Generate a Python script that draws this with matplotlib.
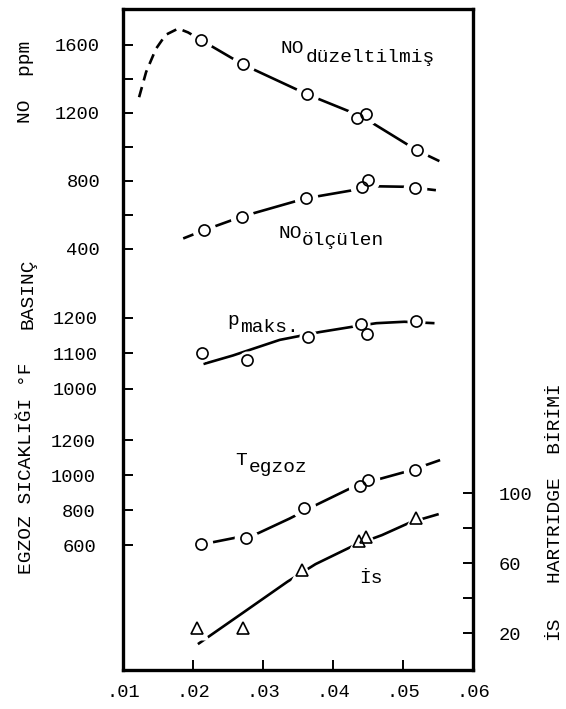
import matplotlib
matplotlib.use('Agg')
import matplotlib.pyplot as plt

plt.rcParams['font.family'] = ['Liberation Mono', 'DejaVu Sans']

# ---------------- data ----------------
x_ticks = [0.01, 0.02, 0.03, 0.04, 0.05, 0.06]
x_labels = ['.01', '.02', '.03', '.04', '.05', '.06']

no_ticks = [400, 600, 800, 1000, 1200, 1400, 1600]
no_labels = ['400', '', '800', '', '1200', '', '1600']
p_ticks = [1000, 1100, 1200]
p_labels = ['1000', '1100', '1200']
t_ticks = [600, 800, 1000, 1200]
t_labels = ['600', '800', '1000', '1200']
s_ticks = [20, 40, 60, 80, 100]
s_labels = ['20', '', '60', '', '100']

# NO corrected (düzeltilmiş)
nocor_x = [0.0212, 0.0271, 0.0363, 0.0435, 0.0447, 0.0520]
nocor_y = [1625, 1483, 1307, 1165, 1189, 977]
nocor_dash_x = [0.0123, 0.0133, 0.0147, 0.0161, 0.0179, 0.0193, 0.0212]
nocor_dash_y = [1290, 1438, 1574, 1657, 1694, 1671, 1625]
nocor_fit_x = [0.0212, 0.0271, 0.0363, 0.0441, 0.0520, 0.0552]
nocor_fit_y = [1625, 1483, 1307, 1177, 977, 914]

# NO measured (ölçülen)
nomes_x = [0.0216, 0.0270, 0.0361, 0.0441, 0.0450, 0.0517]
nomes_y = [508, 588, 695, 759, 801, 753]
nomes_fit_x = [0.0186, 0.0216, 0.0270, 0.0361, 0.0461, 0.0505, 0.0547]
nomes_fit_y = [459, 508, 588, 695, 766, 763, 743]

# maximum pressure
p_x = [0.0213, 0.0277, 0.0364, 0.0440, 0.0449, 0.0518]
p_y = [1100, 1079, 1144, 1181, 1153, 1189]
p_fit_x = [0.0215, 0.0257, 0.0324, 0.0381, 0.0428, 0.0462, 0.0502, 0.0545]
p_fit_y = [1069, 1093, 1137, 1159, 1174, 1184, 1188, 1184]

# exhaust temperature
t_x = [0.0211, 0.0276, 0.0359, 0.0439, 0.0450, 0.0517]
t_y = [607, 641, 812, 938, 973, 1034]
t_fit_x = [0.0211, 0.0293, 0.0338, 0.0375, 0.0430, 0.0460, 0.0510, 0.0553]
t_fit_y = [605, 670, 754, 830, 937, 973, 1028, 1088]

# smoke (Hartridge)
s_x = [0.0205, 0.0271, 0.0356, 0.0437, 0.0447, 0.0518]
s_y = [23.0, 22.9, 56.1, 72.6, 75.0, 85.7]
s_fit_x = [0.0207, 0.0272, 0.0335, 0.0375, 0.0430, 0.0470, 0.0510, 0.0551]
s_fit_y = [13.9, 32.0, 49.6, 59.6, 70.3, 76.2, 83.4, 88.2]

# ---------------- layout ----------------
W, H = 566, 709
fig = plt.figure(figsize=(W / 100, H / 100), dpi=100)
fig.patch.set_facecolor('white')


def fx(px):
    return px / W


def fy(py):
    return 1 - py / H


AX_L, AX_R, AX_T, AX_B = 123, 473, 8.5, 669.5
rect = [fx(AX_L), fy(AX_B), (AX_R - AX_L) / W, (AX_B - AX_T) / H]

ax_no = fig.add_axes(rect)
ax_p = fig.add_axes(rect)
ax_t = fig.add_axes(rect)
ax_s = fig.add_axes(rect)

LW = 1.9
TS = 13.5
for ax in (ax_no, ax_p, ax_t, ax_s):
    ax.set_xlim(0.01, 0.06)
    ax.patch.set_visible(False)
    for sp in ax.spines.values():
        sp.set_visible(False)
ax_no.patch.set_visible(True)
ax_no.patch.set_facecolor('white')
for sp in ax_no.spines.values():
    sp.set_visible(True)
    sp.set_linewidth(2.4)

ax_no.set_xticks(x_ticks, labels=x_labels)
ax_no.tick_params(axis='x', direction='in', length=7, width=1.4, pad=10.5,
                  labelsize=TS, top=False)
for ax in (ax_p, ax_t, ax_s):
    ax.tick_params(axis='x', bottom=False, labelbottom=False)

# y ranges set so the tick values sit where they sit in the reference
ax_no.set_ylim(-2076.5, 1811.8)
ax_p.set_ylim(208.5, 2070.4)
ax_t.set_ylim(-108.6, 3668.6)
ax_s.set_ylim(-0.6, 377.1)

ax_no.set_yticks(no_ticks, labels=no_labels)
ax_p.set_yticks(p_ticks, labels=p_labels)
ax_t.set_yticks(t_ticks, labels=t_labels)
ax_s.set_yticks(s_ticks, labels=s_labels)
ax_no.tick_params(axis='y', direction='in', length=7.2, width=1.4, pad=16.5, labelsize=TS)
ax_p.tick_params(axis='y', direction='in', length=7.2, width=1.4, pad=18, labelsize=TS)
ax_t.tick_params(axis='y', direction='in', length=7.2, width=1.4, pad=19.5, labelsize=TS)
ax_s.yaxis.tick_right()
ax_s.tick_params(axis='y', direction='in', length=7.2, width=1.4, pad=18.5, labelsize=TS,
                 left=False, labelleft=False, right=True, labelright=True)

# ---------------- series ----------------
def series(ax, fx_, fy_, mx, my, marker, msize, halo, ls='-'):
    ax.plot(fx_, fy_, color='black', lw=LW, ls=ls, solid_capstyle='butt', zorder=2)
    ax.plot(mx, my, ls='none', marker=marker, ms=halo, mfc='white', mec='none', zorder=3)
    ax.plot(mx, my, ls='none', marker=marker, ms=msize, mfc='none', mec='black',
            mew=1.2, zorder=4)


ax_no.plot(nocor_dash_x, nocor_dash_y, color='black', lw=LW, ls=(0, (4, 2.6)), zorder=2)
series(ax_no, nocor_fit_x, nocor_fit_y, nocor_x, nocor_y, 'o', 8, 17)
series(ax_no, nomes_fit_x, nomes_fit_y, nomes_x, nomes_y, 'o', 8, 17)
series(ax_p, p_fit_x, p_fit_y, p_x, p_y, 'o', 8, 13)
series(ax_t, t_fit_x, t_fit_y, t_x, t_y, 'o', 8, 17)
series(ax_s, s_fit_x, s_fit_y, s_x, s_y, '^', 9, 17)

# ---------------- text ----------------
LS = 14
fig.text(fx(26), fy(82), 'NO  ppm', rotation=90, ha='center', va='center', size=LS)
fig.text(fx(28), fy(294), 'BASINÇ', rotation=90, ha='center', va='center', size=LS)
fig.text(fx(27), fy(468), 'EGZOZ SICAKLIĞI °F', rotation=90, ha='center', va='center', size=LS)
fig.text(fx(555), fy(483), 'HARTRIDGE  BİRİMİ', rotation=90, ha='center', va='center', size=LS)
fig.text(fx(554), fy(628), 'İS', rotation=90, ha='center', va='center', size=LS)

IS = 14
fig.text(fx(280), fy(53), 'NO', size=IS, va='baseline')
fig.text(fx(306), fy(62), 'düzeltilmiş', size=IS, va='baseline')
fig.text(fx(278), fy(238), 'NO', size=IS, va='baseline')
fig.text(fx(302), fy(245), 'ölçülen', size=IS, va='baseline')
fig.text(fx(227), fy(325), 'p', size=IS, va='baseline')
fig.text(fx(240), fy(332), 'maks.', size=IS, va='baseline')
fig.text(fx(235), fy(465), 'T', size=IS, va='baseline')
fig.text(fx(249), fy(472), 'egzoz', size=IS, va='baseline')
fig.text(fx(359), fy(583), 'İs', size=IS, va='baseline')

fig.savefig('out.png', dpi=100, facecolor='white')
